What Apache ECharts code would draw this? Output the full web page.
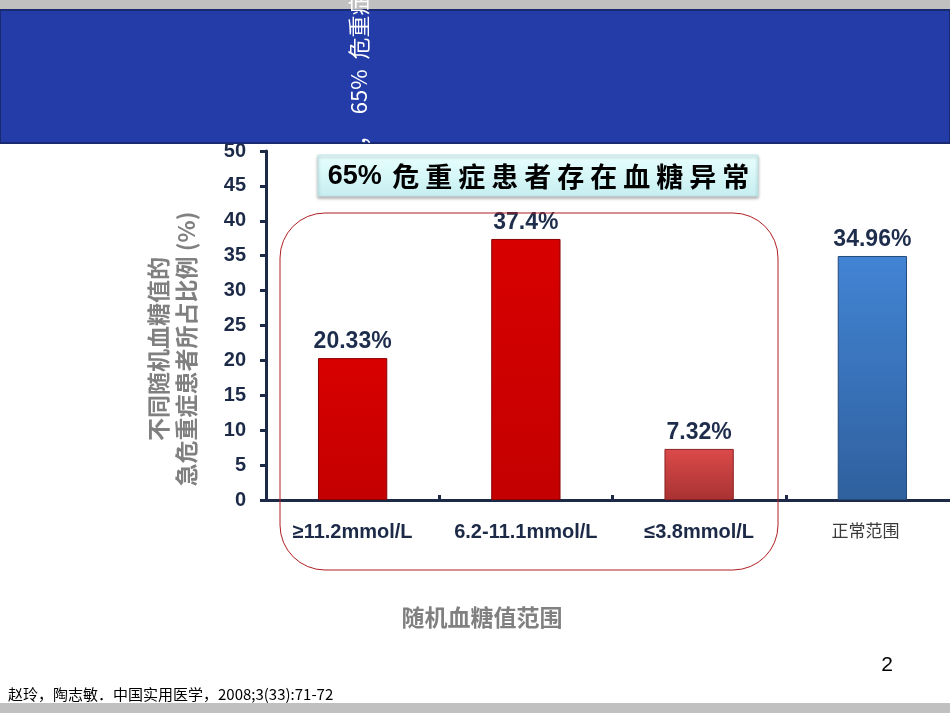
<!DOCTYPE html>
<html>
<head>
<meta charset="utf-8">
<script src="https://cdn.jsdelivr.net/npm/echarts@6/dist/echarts.min.js"></script>
<style>
html,body{margin:0;padding:0;background:#fff;}
#chart{width:950px;height:713px;}
</style>
</head>
<body>
<div id="chart"></div>
<script>
var categories = ['≥11.2mmol/L', '6.2-11.1mmol/L', '≤3.8mmol/L', '正常范围'];
var values = [20.33, 37.4, 7.32, 34.96];
var yTicks = [0, 5, 10, 15, 20, 25, 30, 35, 40, 45, 50];
var yName = ['不同随机血糖值的', '急危重症患者所占比例 (%)'];
var xName = '随机血糖值范围';
var boxText = '65% 危重症患者存在血糖异常';
var bannerText = '，  65%  危重症患者存在血糖异常';
var citation = '赵玲，陶志敏．中国实用医学，2008;3(33):71-72';
var pageNo = '2';

function grad(a, b) {
  return new echarts.graphic.LinearGradient(0, 0, 0, 1, [{offset: 0, color: a}, {offset: 1, color: b}]);
}
var barStyles = [
  {color: grad('#D80000', '#C40000'), borderColor: '#8A0000', borderWidth: 1},
  {color: grad('#D80000', '#C40000'), borderColor: '#8A0000', borderWidth: 1},
  {color: grad('#DC4A4A', '#A83232'), borderColor: '#8A2020', borderWidth: 1},
  {color: grad('#4284D4', '#2F609E'), borderColor: '#24497A', borderWidth: 1}
];

// spaced rich text for the box title
var boxRich = boxText.split('').map(function (ch) {
  return /[\u4e00-\u9fff]/.test(ch) ? '{c|' + ch + '}' : '{a|' + ch + '}';
}).join('');

var navy = '#1C2A48';
var chart = echarts.init(document.getElementById('chart'));
chart.setOption({
  backgroundColor: '#ffffff',
  animation: false,
  grid: {left: 266, width: 693, top: 151, bottom: 213, containLabel: false, outerBoundsMode: 'none'},
  xAxis: {
    type: 'category',
    data: categories,
    axisLine: {lineStyle: {color: navy, width: 3}},
    axisTick: {show: true, inside: true, length: 5, lineStyle: {color: navy, width: 3}},
    axisLabel: {
      margin: 22,
      interval: 0,
      formatter: function (v, i) { return i === 3 ? '{n|' + v + '}' : '{b|' + v + '}'; },
      rich: {
        b: {fontSize: 20, fontWeight: 'bold', color: navy, fontFamily: 'Liberation Sans Narrow, Liberation Sans, Arial'},
        n: {fontSize: 17, fontWeight: 'normal', color: '#3A3A3A', fontFamily: 'Noto Sans CJK SC', padding: [0, 14, 0, 0]}
      }
    }
  },
  yAxis: {
    type: 'value',
    min: yTicks[0],
    max: yTicks[yTicks.length - 1],
    interval: yTicks[1] - yTicks[0],
    splitLine: {show: false},
    axisLine: {show: true, lineStyle: {color: navy, width: 3}},
    axisTick: {show: true, length: 6, lineStyle: {color: navy, width: 3}},
    axisLabel: {margin: 20, fontSize: 20, fontWeight: 'bold', color: navy, fontFamily: 'Liberation Sans Narrow, Liberation Sans, Arial'}
  },
  series: [{
    type: 'bar',
    barWidth: '40%',
    data: values.map(function (v, i) { return {value: v, itemStyle: barStyles[i]}; }),
    label: {
      show: true, position: 'top', distance: 5,
      formatter: '{c}%', fontSize: 23, fontWeight: 'bold', color: '#1F2D4D',
      fontFamily: 'Liberation Sans, Arial'
    }
  }],
  graphic: [
    {type: 'rect', z: 100, shape: {x: 0, y: 0, width: 950, height: 10}, style: {fill: '#C0C0C0'}},
    {type: 'rect', z: 100, shape: {x: 0, y: 10, width: 950, height: 133}, style: {fill: '#233CA8', stroke: '#1A2A70', lineWidth: 2}},
    {type: 'text', z: 101, x: 359, y: 146, rotation: Math.PI / 2,
      style: {text: bannerText, fill: '#ffffff', fontSize: 22, fontFamily: 'Noto Sans CJK SC', textAlign: 'left', textVerticalAlign: 'middle'}},
    {type: 'rect', z: 50, shape: {x: 318, y: 155, width: 440, height: 41},
      style: {fill: grad('#E8FFFF', '#C6EEF0'), stroke: '#C0E4E8', lineWidth: 1, shadowBlur: 3, shadowColor: 'rgba(0,0,0,0.3)', shadowOffsetY: 2}},
    {type: 'text', z: 51, x: 540, y: 177,
      style: {text: boxRich, textAlign: 'center', textVerticalAlign: 'middle',
        rich: {
          a: {fill: '#000000', fontSize: 27, fontWeight: 'bold', fontFamily: 'Liberation Sans, Arial'},
          c: {fill: '#000000', fontSize: 27, fontWeight: 'bold', fontFamily: 'Noto Sans CJK SC', padding: [0, 3]}
        }}},
    {type: 'rect', z: 40, shape: {x: 280, y: 213, width: 498, height: 357, r: 45},
      style: {fill: 'none', stroke: '#B01E22', lineWidth: 1}},
    {type: 'text', z: 50, x: 172, y: 349, rotation: Math.PI / 2,
      style: {text: yName.join('\n'), fill: '#808080', fontSize: 23, fontWeight: 'bold', lineHeight: 28, fontFamily: 'Noto Sans CJK SC', textAlign: 'center', textVerticalAlign: 'middle'}},
    {type: 'text', z: 50, x: 482, y: 617,
      style: {text: xName, fill: '#808080', fontSize: 23, fontWeight: 'bold', fontFamily: 'Noto Sans CJK SC', textAlign: 'center', textVerticalAlign: 'middle'}},
    {type: 'text', z: 50, x: 887, y: 665,
      style: {text: pageNo, fill: '#000000', fontSize: 21, fontFamily: 'Liberation Sans Narrow, Liberation Sans', textAlign: 'center', textVerticalAlign: 'middle'}},
    {type: 'text', z: 50, x: 8, y: 694,
      style: {text: citation, fill: '#000000', fontSize: 15, fontFamily: 'Noto Sans CJK SC', textAlign: 'left', textVerticalAlign: 'middle'}},
    {type: 'rect', z: 100, shape: {x: 0, y: 703, width: 950, height: 10}, style: {fill: '#C0C0C0'}}
  ]
});
</script>
</body>
</html>
